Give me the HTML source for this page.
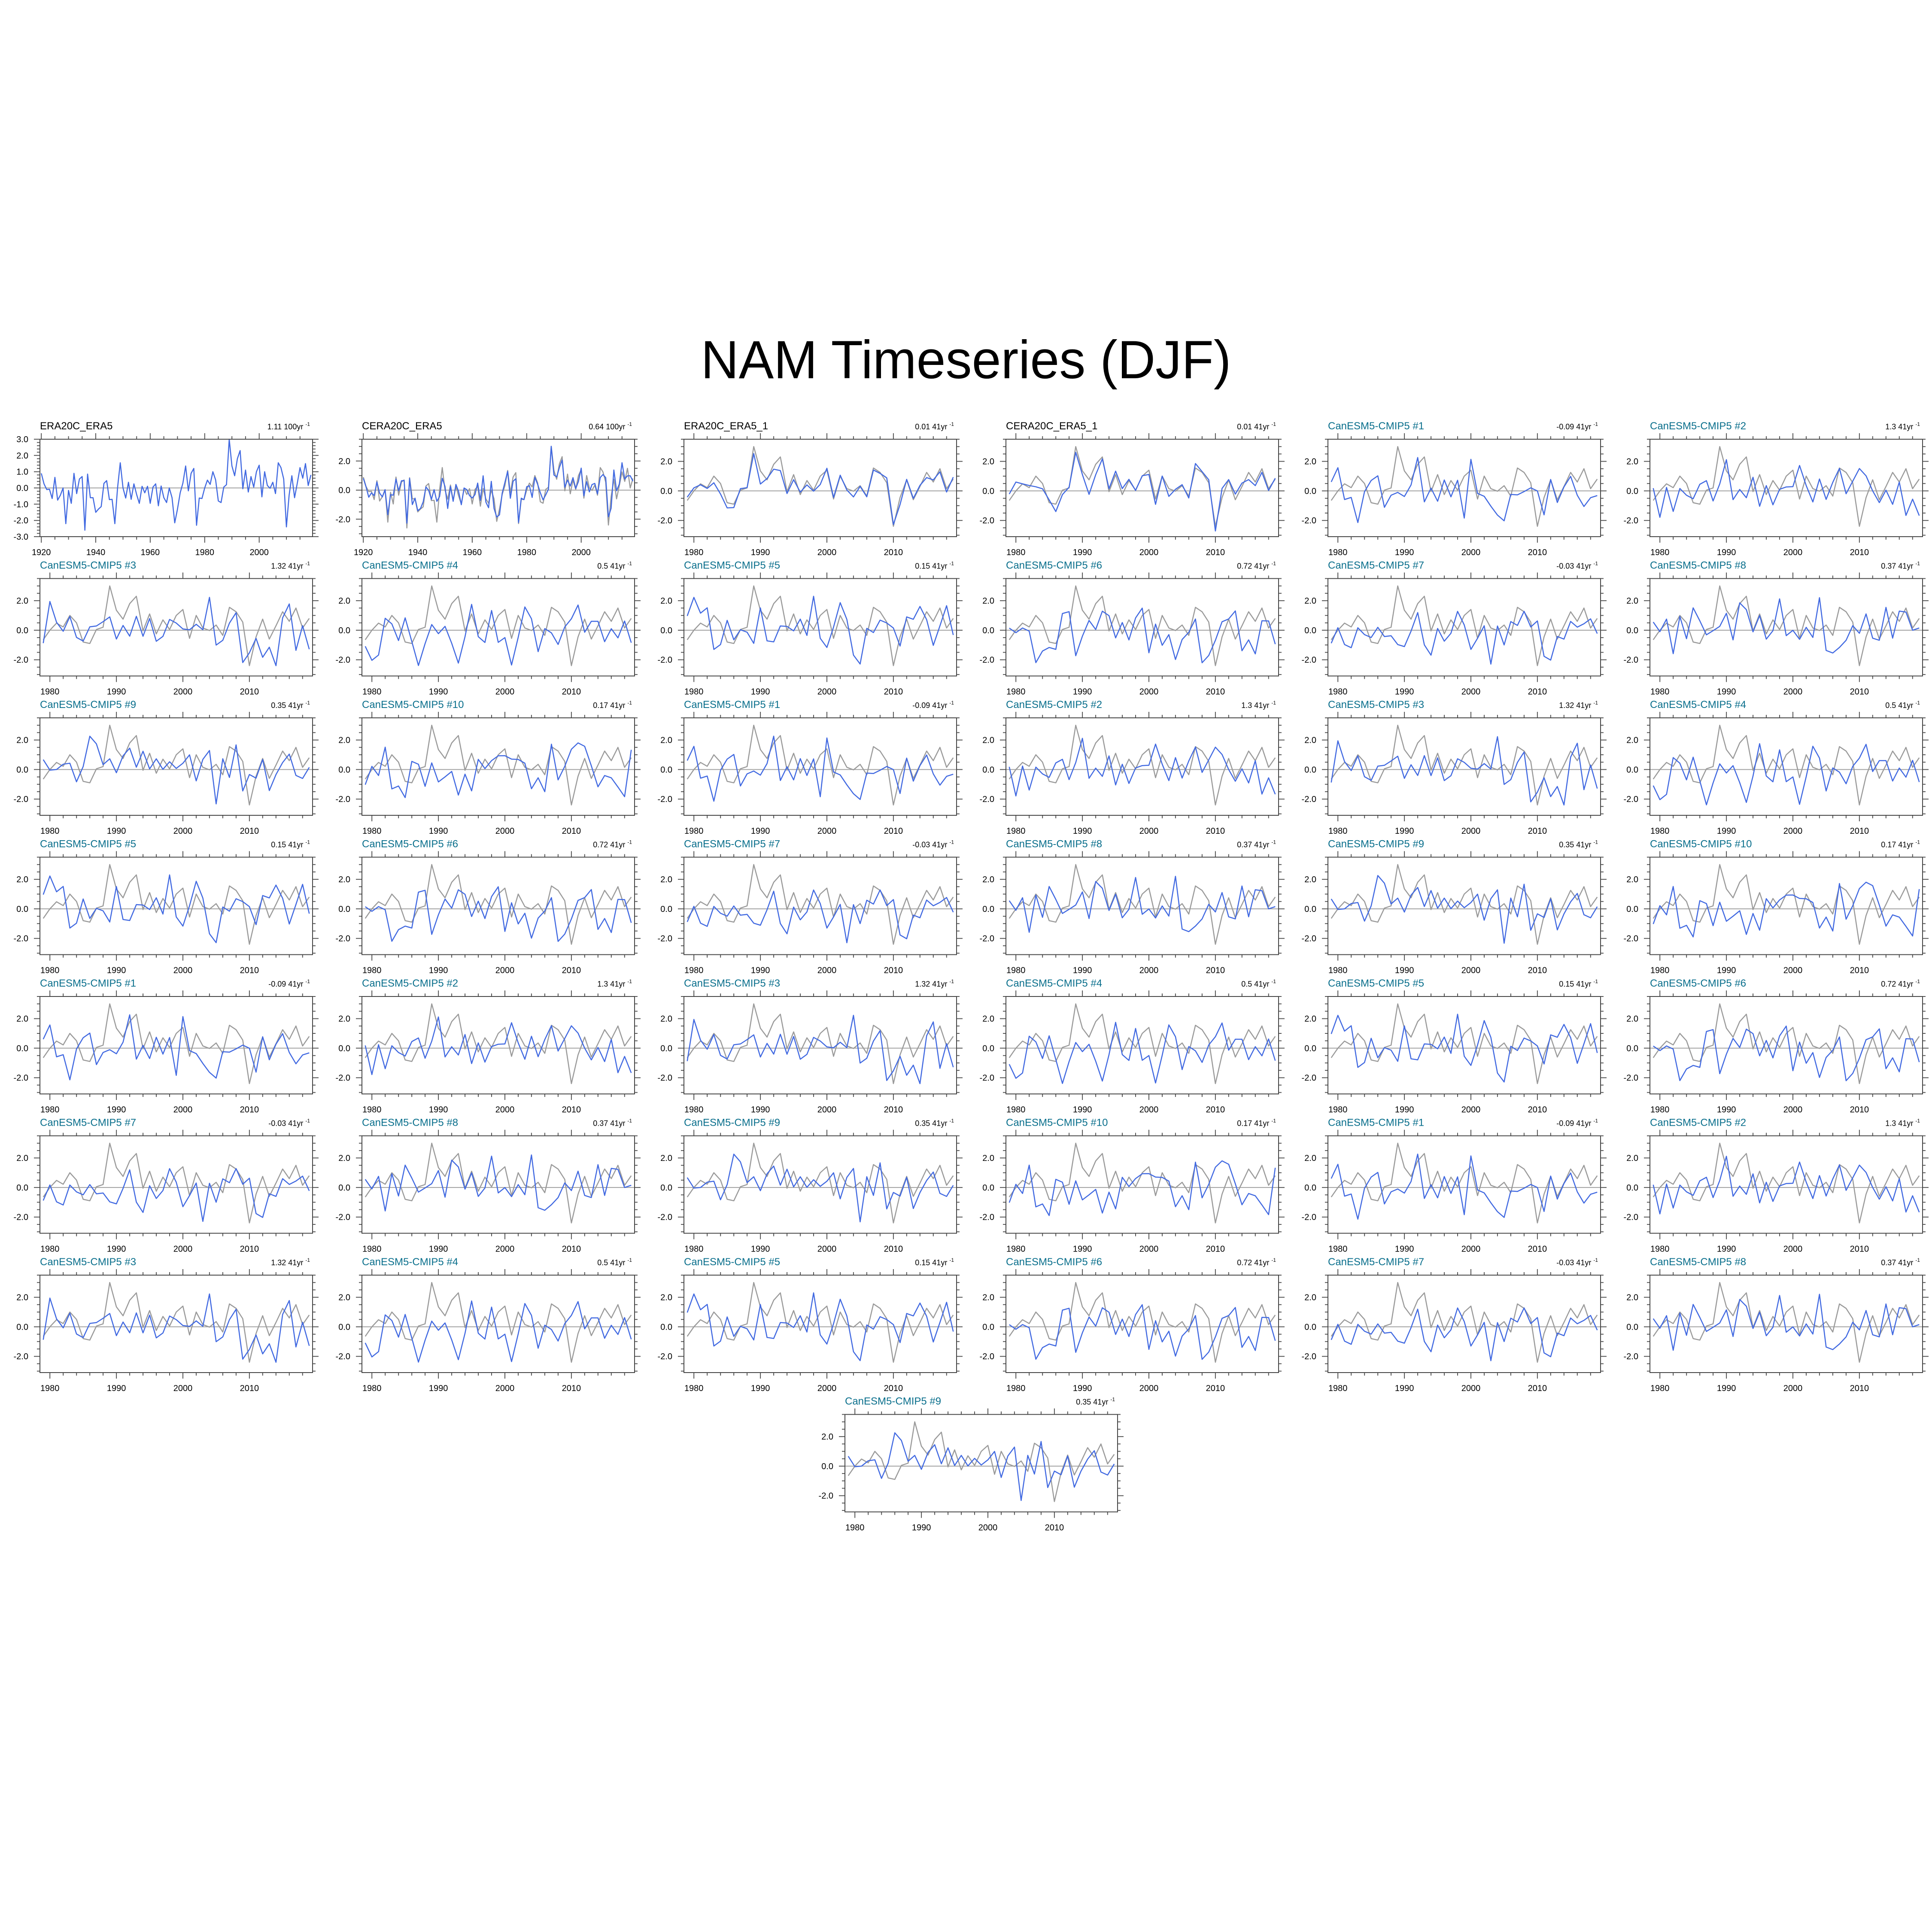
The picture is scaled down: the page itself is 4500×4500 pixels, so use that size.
<!DOCTYPE html>
<html><head><meta charset="utf-8">
<style>
html,body{margin:0;padding:0;background:#fff;}
svg{display:block;}
text{font-family:"Liberation Sans",Arial,sans-serif;}
</style></head>
<body>
<svg id="s" width="4500" height="4500" viewBox="0 0 4500 4500" xmlns="http://www.w3.org/2000/svg">
<rect width="4500" height="4500" fill="#fff"/>
<text x="2250" y="881" font-size="125" text-anchor="middle" textLength="1235" lengthAdjust="spacingAndGlyphs" fill="#000">NAM Timeseries (DJF)</text>
</svg>
<script>
(function(){
var era=[0.9,0.25,-0.1,-0.08,-0.65,0.65,-0.75,-0.45,0,-2.2,-0.15,-0.95,0.9,-0.35,0.55,0.7,-2.6,0.85,-0.6,-0.6,-1.5,-1.3,-1.15,0.28,0.45,-0.72,-0.7,-2.2,0,1.55,0,-0.62,0.35,-0.7,0.25,-0.4,-0.95,0.1,-0.3,0.1,-0.95,0.05,0.25,-1.1,0.12,-0.6,-0.9,0,-0.6,-2.15,-1.3,-0.3,0.3,1.35,-0.18,0.9,1.2,-2.3,-0.62,-0.65,0,0.48,0.22,1.0,0.5,-0.8,-0.9,0.05,0.2,3.0,1.35,0.75,1.8,2.3,-0.05,1.1,-0.25,0.7,0.05,1.0,1.4,-0.55,1.0,0.15,-0.02,0.35,-0.35,1.55,1.25,0.55,-2.4,-0.45,0.75,-0.6,0.3,1.25,0.6,1.5,0.15,0.8];
var obs=era.slice(59);
function rng(seed){var s=seed*9301+49297;return function(){s=(s*16807)%2147483647;return (s-1)/2147483646;};}
function gauss(r){var u=r()||1e-9,v=r();return Math.sqrt(-2*Math.log(u))*Math.cos(2*Math.PI*v);}
function noise(seed,n,sd){var r=rng(seed),a=[];for(var i=0;i<n;i++){var g=gauss(r)*sd;if(g>2.3)g=2.3;if(g<-2.4)g=-2.4;a.push(g);}return a;}
var trend={1:"-0.09",2:"1.3",3:"1.32",4:"0.5",5:"0.15",6:"0.72",7:"-0.03",8:"0.37",9:"0.35",10:"0.17"};
var out=[];
function esc(t){return t.replace(/&/g,"&amp;").replace(/</g,"&lt;");}
function panel(x0,y0,o){
  var W=635,H=227;
  var y1=o.y1,y2=o.y2,x1=o.x1,x2=o.x2;
  function X(t){return x0+(t-x1)/(x2-x1)*W;}
  function Y(v){return y0+(y2-v)/(y2-y1)*H;}
  out.push('<text x="'+x0+'" y="'+(y0-23)+'" font-size="24" fill="'+o.tc+'">'+esc(o.title)+'</text>');
  out.push('<text x="'+(x0+W-6)+'" y="'+(y0-23)+'" font-size="18" text-anchor="end" fill="#000">'+o.rt+' <tspan font-size="12" dy="-8">-1</tspan></text>');
  out.push('<line x1="'+x0+'" x2="'+(x0+W)+'" y1="'+Y(0)+'" y2="'+Y(0)+'" stroke="#a0a0a0" stroke-width="2"/>');
  var tk=[];
  for(var yr=Math.ceil(x1);yr<=x2;yr++){
    var maj=(yr%o.xmaj===0),min=(yr%o.xmin===0);
    if(!min)continue;
    var xx=X(yr).toFixed(1),L=maj?14:7;
    tk.push('M'+xx+' '+y0+'v-'+L+'M'+xx+' '+(y0+H)+'v'+L);
    if(maj)out.push('<text x="'+xx+'" y="'+(y0+H+43)+'" font-size="20" text-anchor="middle" fill="#000">'+yr+'</text>');
  }
  var st=o.ymin;
  for(var v=Math.ceil(y1/st-1e-6)*st;v<=y2+1e-6;v+=st){
    var vv=Math.round(v*100)/100,yy=Y(vv).toFixed(1);
    var maj=Math.abs(vv/o.ymaj-Math.round(vv/o.ymaj))<1e-6,L=maj?14:7;
    tk.push('M'+x0+' '+yy+'h-'+L+'M'+(x0+W)+' '+yy+'h'+L);
    if(maj)out.push('<text x="'+(x0-27)+'" y="'+(+yy+7)+'" font-size="20" text-anchor="end" fill="#000">'+vv.toFixed(1)+'</text>');
  }
  out.push('<path d="'+tk.join('')+'" stroke="#555" stroke-width="2" fill="none"/>');
  o.series.forEach(function(s){
    var p=[];for(var i=0;i<s.d.length;i++){p.push(X(s.t0+i).toFixed(1)+','+Y(s.d[i]).toFixed(1));}
    out.push('<polyline points="'+p.join(' ')+'" fill="none" stroke="'+s.c+'" stroke-width="2.5" stroke-linejoin="round"/>');
  });
  out.push('<rect x="'+x0+'" y="'+y0+'" width="'+W+'" height="'+H+'" fill="none" stroke="#444" stroke-width="2"/>');
}
var G="#9a9a9a",B="#4169e1";
var cenOpt={x1:1919.5,x2:2019.6,xmaj:20,xmin:5};
var modOpt={x1:1978.5,x2:2019.5,xmaj:10,xmin:2};
function ext(a,b){for(var k in b)a[k]=b[k];return a;}
var panels=[];
panels.push(ext({title:"ERA20C_ERA5",tc:"#000",rt:"1.11 100yr",y1:-3,y2:3,ymaj:1,ymin:0.2,series:[{t0:1920,d:era,c:B}]},cenOpt));
var n2=noise(77,100,0.35),cera=era.map(function(v,i){return v*0.9+n2[i];});
panels.push(ext({title:"CERA20C_ERA5",tc:"#000",rt:"0.64 100yr",y1:-3.2,y2:3.5,ymaj:2,ymin:0.5,series:[{t0:1920,d:era,c:G},{t0:1920,d:cera,c:B}]},cenOpt));
var n3=noise(31,41,0.25),n4=noise(43,41,0.3);
panels.push(ext({title:"ERA20C_ERA5_1",tc:"#000",rt:"0.01 41yr",y1:-3.1,y2:3.5,ymaj:2,ymin:0.5,series:[{t0:1979,d:obs,c:G},{t0:1979,d:obs.map(function(v,i){return v*0.85+n3[i];}),c:B}]},modOpt));
panels.push(ext({title:"CERA20C_ERA5_1",tc:"#000",rt:"0.01 41yr",y1:-3.1,y2:3.5,ymaj:2,ymin:0.5,series:[{t0:1979,d:obs,c:G},{t0:1979,d:obs.map(function(v,i){return v*0.85+n4[i];}),c:B}]},modOpt));
for(var k=0;k<39;k++){
  var m=(k%10)+1;
  panels.push(ext({title:"CanESM5-CMIP5 #"+m,tc:"#0a6f8c",rt:trend[m]+" 41yr",y1:-3.1,y2:3.5,ymaj:2,ymin:0.5,
    series:[{t0:1979,d:obs,c:G},{t0:1979,d:noise(m*131+7,41,0.95),c:B}]},modOpt));
}
for(var i=0;i<panels.length;i++){
  var x0,y0;
  if(i<42){x0=93+750*(i%6);y0=1023+324.5*Math.floor(i/6);}
  else{x0=1968;y0=1023+324.5*7;}
  panel(x0,y0,panels[i]);
}
document.getElementById('s').insertAdjacentHTML('beforeend',out.join(''));
})();
</script>
</body></html>
